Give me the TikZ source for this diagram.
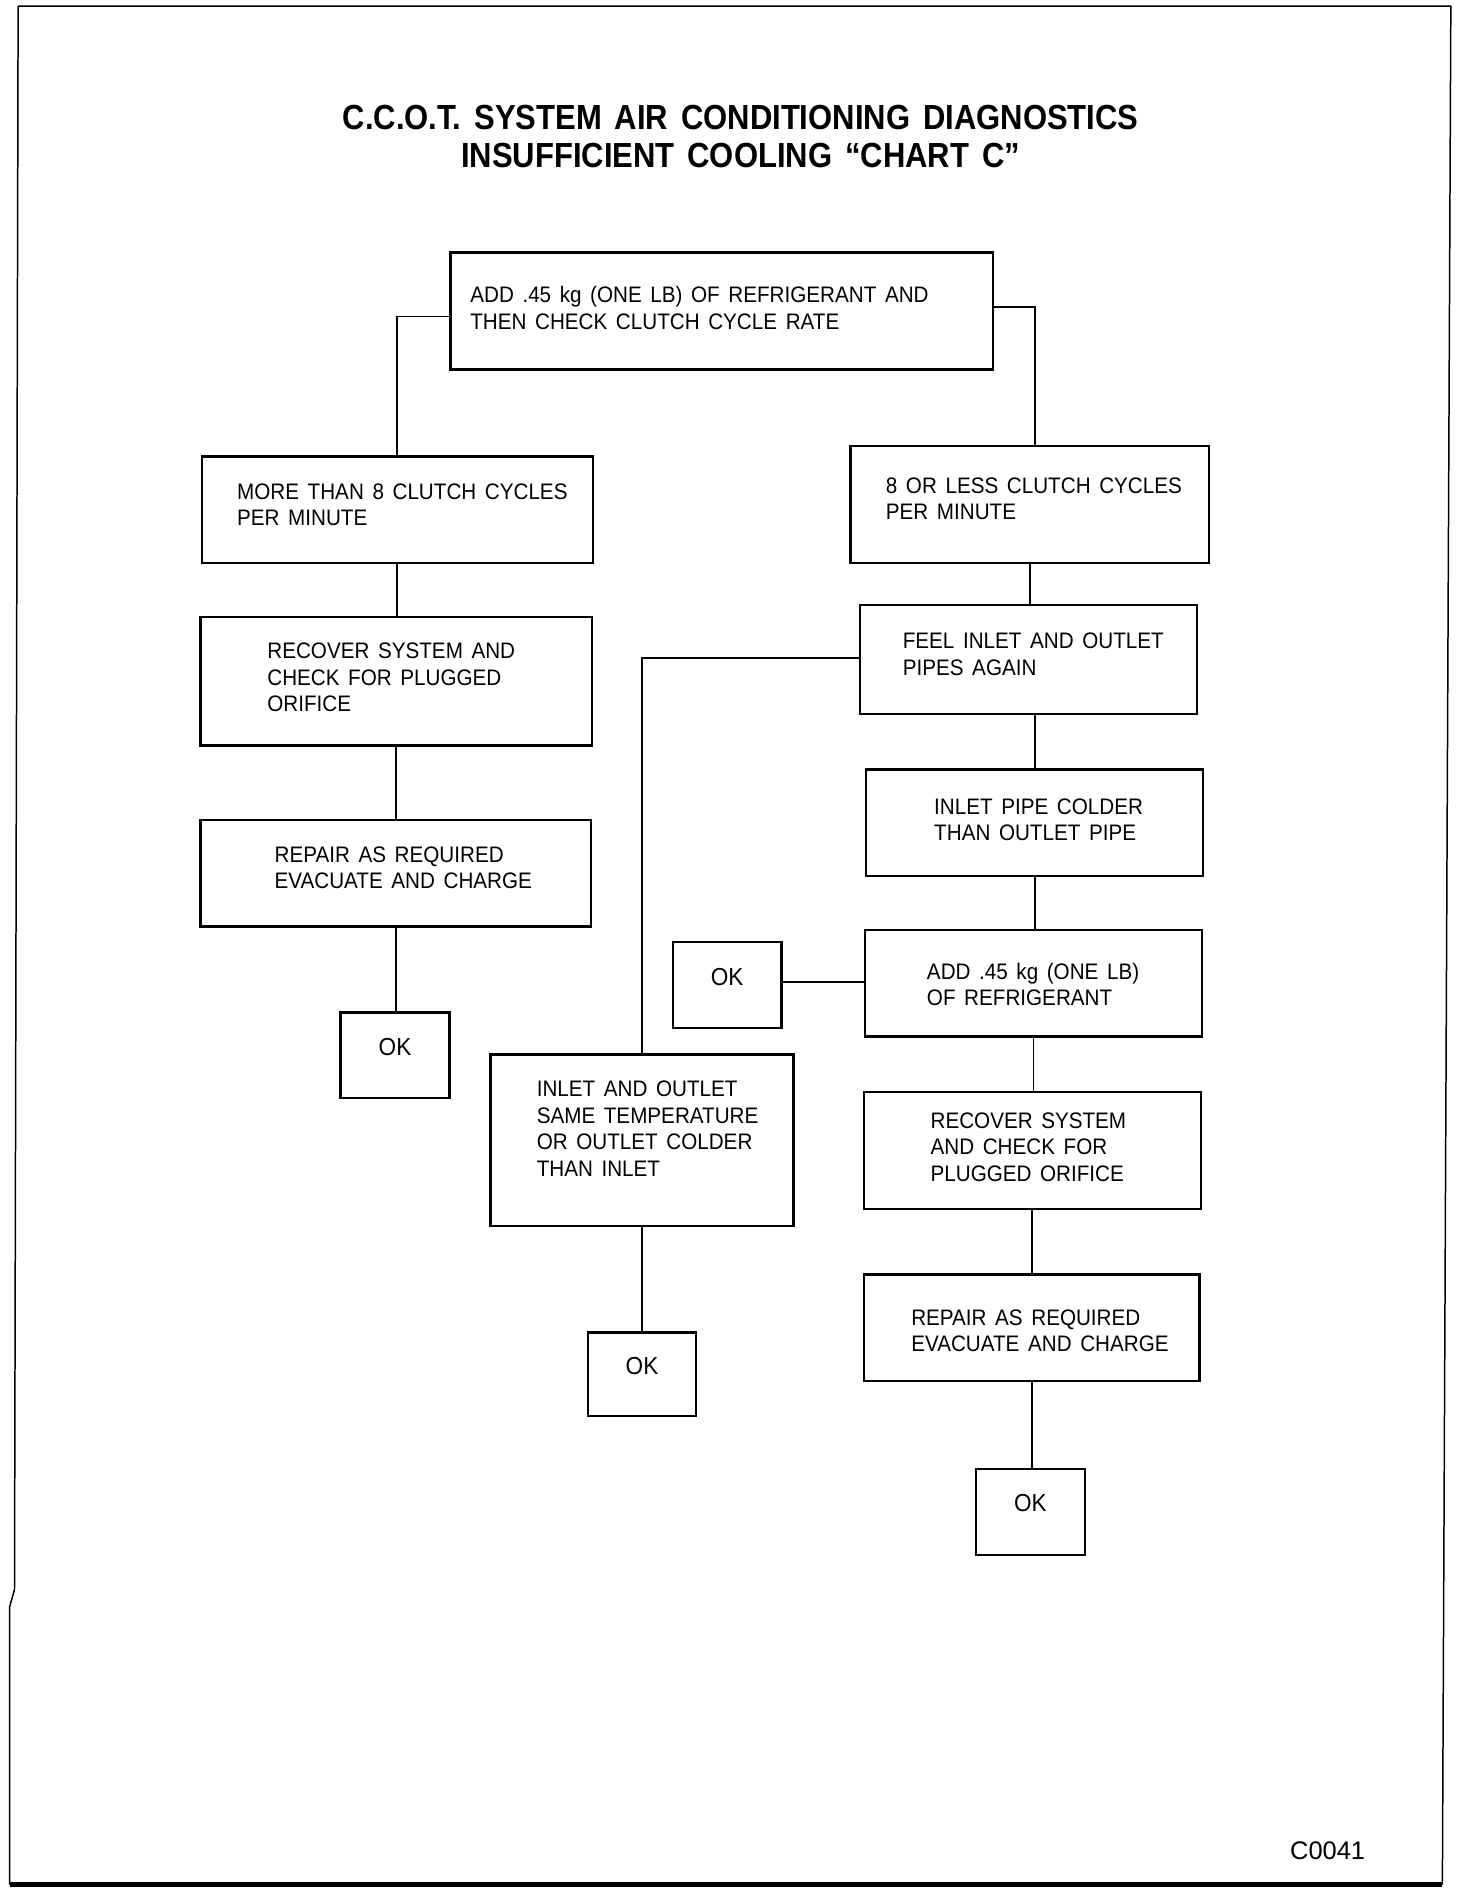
\documentclass[tikz,border=0pt]{standalone}
\usepackage{fontspec}
\setmainfont[FakeStretch=0.92,WordSpace=1.5]{Liberation Sans}
\newfontfamily\titlefont[FakeStretch=0.89,WordSpace=1.5]{Liberation Sans}
\newfontfamily\plainfont{Liberation Sans}
\usetikzlibrary{fit}
\begin{document}
\begin{tikzpicture}[x=0.01986cm, y=-0.01986cm,
	box/.style={rectangle, draw, line width=1.1pt, inner sep=0pt},
	txt/.style={anchor=west, align=left, inner sep=0pt, font=\fontsize{10.5}{12.4}\selectfont},
	okbox/.style={box, font=\fontsize{11.5}{12}\selectfont},
	link/.style={line width=0.9pt}]
	\useasboundingbox (0,0) rectangle (1218.5,1566.2);
	\draw[line width=0.7pt] (15,5) -- (1201,5) -- (1194,1560);
	\draw[line width=0.7pt] (15,5) -- (12,1316) -- (8,1330) -- (8,1560);
	\draw[line width=2pt] (8,1560) -- (1194,1560);
	\node (title) at (613,113) [align=center, inner sep=0pt, font=\titlefont\bfseries\fontsize{16.3}{17.9}\selectfont] {C.C.O.T. SYSTEM AIR CONDITIONING DIAGNOSTICS\\INSUFFICIENT COOLING “CHART C”};
	\node (add) [box, fit={(373,209) (822,306)}] {};
	\node (add-t) at (389,255) [txt] {ADD .45 kg (ONE LB) OF REFRIGERANT AND\\THEN CHECK CLUTCH CYCLE RATE};
	\node (more) [box, fit={(167,378) (491,466)}] {};
	\node (more-t) at (196,418) [txt] {MORE THAN 8 CLUTCH CYCLES\\PER MINUTE};
	\node (rec) [box, fit={(166,511) (490,617)}] {};
	\node (rec-t) at (221,561) [txt] {RECOVER SYSTEM AND\\CHECK FOR PLUGGED\\ORIFICE};
	\node (rep) [box, fit={(166,679) (489,767)}] {};
	\node (rep-t) at (227,718.5) [txt] {REPAIR AS REQUIRED\\EVACUATE AND CHARGE};
	\node (ok-a) [okbox, fit={(282,838) (372,909)}] {OK};
	\node (less) [box, fit={(704,369) (1001,466)}] {};
	\node (less-t) at (733,413) [txt] {8 OR LESS CLUTCH CYCLES\\PER MINUTE};
	\node (feel) [box, fit={(712,501) (991,591)}] {};
	\node (feel-t) at (747,541.5) [txt] {FEEL INLET AND OUTLET\\PIPES AGAIN};
	\node (colder) [box, fit={(717,637) (996,725)}] {};
	\node (colder-t) at (773,678.5) [txt] {INLET PIPE COLDER\\THAN OUTLET PIPE};
	\node (add-b) [box, fit={(716,770) (995,858)}] {};
	\node (add-b-t) at (767,815) [txt] {ADD .45 kg (ONE LB)\\OF REFRIGERANT};
	\node (ok-b) [okbox, fit={(557,780) (647,851)}] {OK};
	\node (rec-b) [box, fit={(715,904) (994,1001)}] {};
	\node (rec-b-t) at (770,949.5) [txt] {RECOVER SYSTEM\\AND CHECK FOR\\PLUGGED ORIFICE};
	\node (rep-b) [box, fit={(715,1055) (993,1143)}] {};
	\node (rep-b-t) at (754,1101.5) [txt] {REPAIR AS REQUIRED\\EVACUATE AND CHARGE};
	\node (ok-c) [okbox, fit={(808,1216) (898,1287)}] {OK};
	\node (same) [box, fit={(406,873) (657,1015)}] {};
	\node (same-t) at (444,934.5) [txt] {INLET AND OUTLET\\SAME TEMPERATURE\\OR OUTLET COLDER\\THAN INLET};
	\node (ok-d) [okbox, fit={(487,1103) (576,1172)}] {OK};
	\draw[link] (add.west |- 0,262) -| (more.north);
	\draw[link] (add.east |- 0,254) -| (less.north -| 857,0);
	\draw[link] (more.south) -- (more.south |- rec.north);
	\draw[link] (rec.south) -- (rec.south |- rep.north);
	\draw[link] (rep.south) -- (rep.south |- ok-a.north);
	\draw[link] (less.south) -- (less.south |- feel.north);
	\draw[link] (feel.south -| colder.north) -- (colder.north);
	\draw[link] (colder.south) -- (colder.south |- add-b.north);
	\draw[link] (add-b.south) -- (add-b.south |- rec-b.north);
	\draw[link] (rec-b.south) -- (rec-b.south |- rep-b.north);
	\draw[link] (rep-b.south) -- (rep-b.south |- ok-c.north);
	\draw[link] (feel.west |- 0,545) -| (same.north);
	\draw[link] (ok-b.east |- 0,813) -- (add-b.west |- 0,813);
	\draw[link] (same.south) -- (same.south |- ok-d.north);
	\node (code) at (1099,1532) [inner sep=0pt, font=\plainfont\fontsize{11.9}{12}\selectfont] {C0041};
\end{tikzpicture}
\end{document}
